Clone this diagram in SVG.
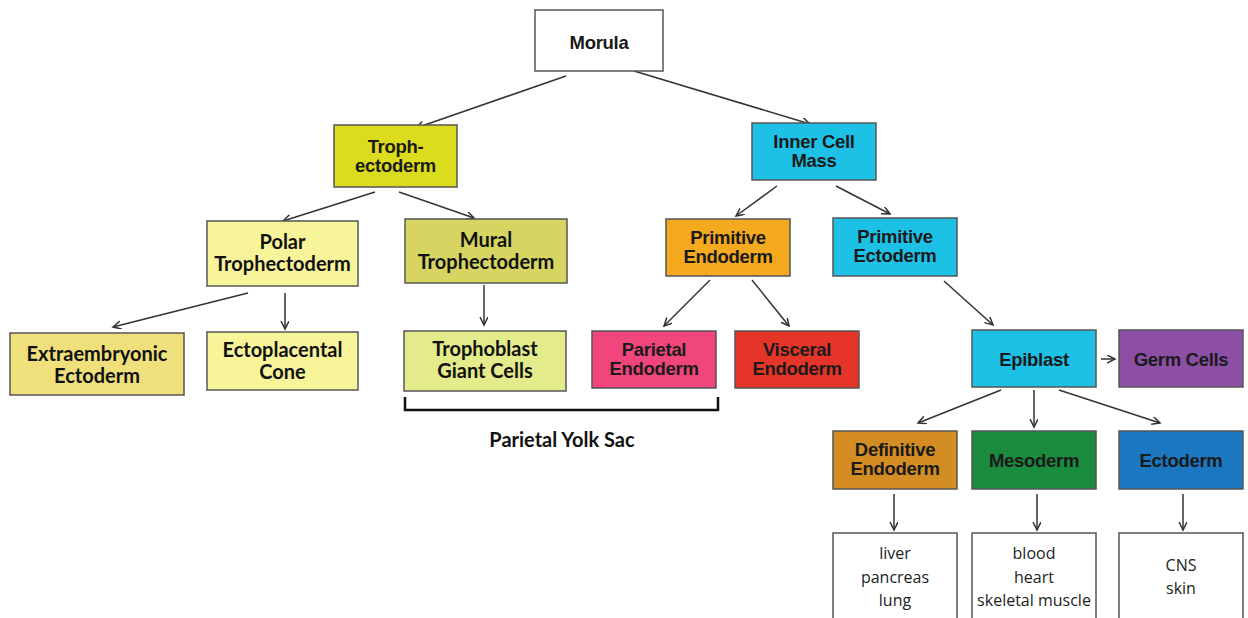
<svg xmlns="http://www.w3.org/2000/svg" width="1248" height="618" viewBox="0 0 1248 618">
<defs>
<marker id="ah" markerWidth="10" markerHeight="10" refX="8" refY="4" orient="auto" markerUnits="userSpaceOnUse">
<path d="M0,0 L8,4 L0,8" fill="none" stroke="#333" stroke-width="1.5"/>
</marker>
<style>
.box{stroke:#555;stroke-width:1.5}
.n{font-family:"Liberation Sans",Arial,sans-serif;font-weight:bold;font-size:18.5px;fill:#1a1a1a;text-anchor:middle;letter-spacing:-0.3px}
.c{font-family:Lato,"Liberation Sans",sans-serif;font-weight:bold;font-size:20px;fill:#111;text-anchor:middle}
.l{font-family:"Open Sans","Liberation Sans",sans-serif;font-size:16px;fill:#222;text-anchor:middle}
.e line{stroke:#333;stroke-width:1.5;marker-end:url(#ah)}
</style>
</defs>
<rect width="1248" height="618" fill="#fff"/>
<g class="e" id="connectors">
<line x1="566" y1="76" x2="416" y2="128"/>
<line x1="634" y1="71" x2="810" y2="124"/>
<line x1="375" y1="192" x2="283" y2="221"/>
<line x1="399" y1="192" x2="474" y2="218"/>
<line x1="248" y1="293" x2="113" y2="327"/>
<line x1="285" y1="293" x2="285" y2="329"/>
<line x1="484" y1="285" x2="484" y2="325"/>
<line x1="777" y1="186" x2="736" y2="216"/>
<line x1="836" y1="186" x2="890" y2="214"/>
<line x1="710" y1="280" x2="664" y2="326"/>
<line x1="752" y1="280" x2="789" y2="326"/>
<line x1="944" y1="281" x2="993" y2="325"/>
<line x1="1101" y1="359" x2="1115" y2="359"/>
<line x1="1001" y1="390" x2="918" y2="423"/>
<line x1="1034" y1="390" x2="1034" y2="427"/>
<line x1="1059" y1="390" x2="1160" y2="423"/>
<line x1="894" y1="494" x2="894" y2="530"/>
<line x1="1037" y1="494" x2="1037" y2="530"/>
<line x1="1183" y1="494" x2="1183" y2="530"/>
</g>
<g id="bracket">
<path d="M405,397 V410 H718 V397" fill="none" stroke="#111" stroke-width="2.5"/>
<text class="c" x="562" y="447" font-size="20">Parietal Yolk Sac</text>
</g>
<g id="morula"><rect class="box" x="535" y="10" width="128" height="61" fill="#fff"/><text class="n" x="599" y="49" font-size="21">Morula</text></g>
<g id="trophectoderm"><rect class="box" x="334" y="125" width="123" height="62" fill="#dcdc1e"/><text class="n" x="395.5" y="153">Troph-</text><text class="n" x="395.5" y="172">ectoderm</text></g>
<g id="icm"><rect class="box" x="752" y="123" width="124" height="57" fill="#1dc1e6"/><text class="n" x="814" y="148">Inner Cell</text><text class="n" x="814" y="167">Mass</text></g>
<g id="polar"><rect class="box" x="207" y="221" width="151" height="65" fill="#f8f49a"/><text class="c" x="282.5" y="249">Polar</text><text class="c" x="282.5" y="271">Trophectoderm</text></g>
<g id="mural"><rect class="box" x="405" y="219" width="162" height="64" fill="#d6d562"/><text class="c" x="486" y="247">Mural</text><text class="c" x="486" y="269">Trophectoderm</text></g>
<g id="primendo"><rect class="box" x="666" y="219" width="124" height="57" fill="#f4a91e"/><text class="n" x="728" y="244">Primitive</text><text class="n" x="728" y="263">Endoderm</text></g>
<g id="primecto"><rect class="box" x="833" y="218" width="124" height="58" fill="#1dc1e6"/><text class="n" x="895" y="243">Primitive</text><text class="n" x="895" y="262">Ectoderm</text></g>
<g id="extraemb"><rect class="box" x="10" y="333" width="174" height="62" fill="#efe07c"/><text class="c" x="97" y="361">Extraembryonic</text><text class="c" x="97" y="383">Ectoderm</text></g>
<g id="ectoplac"><rect class="box" x="207" y="332" width="151" height="58" fill="#f8f49a"/><text class="c" x="282.5" y="357">Ectoplacental</text><text class="c" x="282.5" y="379">Cone</text></g>
<g id="giant"><rect class="box" x="404" y="331" width="162" height="60" fill="#e4eb8a"/><text class="c" x="485" y="356">Trophoblast</text><text class="c" x="485" y="378">Giant Cells</text></g>
<g id="parietal"><rect class="box" x="592" y="331" width="124" height="57" fill="#f0467b"/><text class="n" x="654" y="356">Parietal</text><text class="n" x="654" y="375">Endoderm</text></g>
<g id="visceral"><rect class="box" x="735" y="331" width="124" height="57" fill="#e53528"/><text class="n" x="797" y="356">Visceral</text><text class="n" x="797" y="375">Endoderm</text></g>
<g id="epiblast"><rect class="box" x="972" y="330" width="124" height="57" fill="#1dc1e6"/><text class="n" x="1034" y="366">Epiblast</text></g>
<g id="germ"><rect class="box" x="1119" y="330" width="124" height="57" fill="#8d4fa6"/><text class="n" x="1181" y="366">Germ Cells</text></g>
<g id="defendo"><rect class="box" x="833" y="431" width="124" height="58" fill="#d48d22"/><text class="n" x="895" y="456">Definitive</text><text class="n" x="895" y="475">Endoderm</text></g>
<g id="mesoderm"><rect class="box" x="972" y="431" width="124" height="58" fill="#1b8b3d"/><text class="n" x="1034" y="467">Mesoderm</text></g>
<g id="ectoderm"><rect class="box" x="1119" y="431" width="124" height="58" fill="#1a77c0"/><text class="n" x="1181" y="467">Ectoderm</text></g>
<g id="endo-organs"><rect class="box" x="833" y="533" width="124" height="95" fill="#fff"/><text class="l" x="895" y="559">liver</text><text class="l" x="895" y="583">pancreas</text><text class="l" x="895" y="606">lung</text></g>
<g id="meso-organs"><rect class="box" x="972" y="533" width="124" height="95" fill="#fff"/><text class="l" x="1034" y="559">blood</text><text class="l" x="1034" y="583">heart</text><text class="l" x="1034" y="606">skeletal muscle</text></g>
<g id="ecto-organs"><rect class="box" x="1119" y="533" width="124" height="95" fill="#fff"/><text class="l" x="1181" y="571">CNS</text><text class="l" x="1181" y="594">skin</text></g>
</svg>
